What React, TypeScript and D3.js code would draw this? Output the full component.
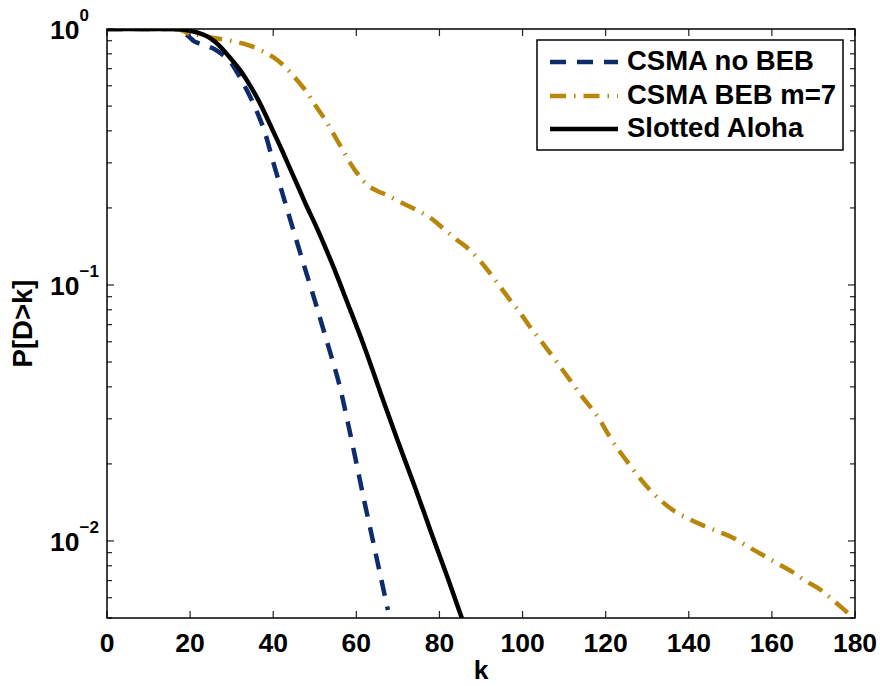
import React from "react";
import * as d3 from "d3";

// CSMA no BEB (blue dashed)
const blueK = [0, 16, 18, 19, 20, 21, 22, 24, 26, 28, 30, 32, 34, 36, 38, 40, 42, 44, 46, 48, 50, 52, 54, 56, 58, 60, 62, 64, 66, 67.6];
const blueP = [1, 1, 0.982, 0.955, 0.923, 0.895, 0.881, 0.859, 0.832, 0.789, 0.733, 0.646, 0.562, 0.479, 0.394, 0.302, 0.234, 0.182, 0.142, 0.111, 0.0871, 0.0676, 0.0525, 0.0403, 0.0288, 0.0202, 0.0141, 0.01, 0.00708, 0.00537];

// CSMA BEB m=7 (gold dash-dot)
const goldK = [0, 16, 18, 20, 22, 25, 28, 31, 34, 37, 40, 43, 46, 48, 50, 52.5, 54.5, 56.5, 58.5, 60.5, 62.5, 65, 67.3, 70, 74.6, 78, 80.8, 84, 87.3, 90, 92.2, 95, 97, 99.5, 101.8, 104, 106.1, 110, 114, 118.6, 121, 125.4, 130.7, 136.2, 140, 143.4, 147, 150.6, 154, 157.8, 161, 164.8, 168, 171.6, 175, 178, 180];
const goldP = [1, 1, 0.989, 0.955, 0.948, 0.927, 0.91, 0.891, 0.865, 0.826, 0.776, 0.708, 0.624, 0.569, 0.507, 0.442, 0.389, 0.342, 0.3, 0.269, 0.247, 0.233, 0.225, 0.213, 0.196, 0.182, 0.167, 0.151, 0.137, 0.123, 0.111, 0.0966, 0.0873, 0.0776, 0.0685, 0.0617, 0.0557, 0.0457, 0.0372, 0.0297, 0.0255, 0.0202, 0.0158, 0.0132, 0.0122, 0.0115, 0.0109, 0.0103, 0.00955, 0.00881, 0.00822, 0.00759, 0.007, 0.00646, 0.00582, 0.00528, 0.00495];

// Slotted Aloha (black solid)
const blackK = [0, 16, 18, 20, 22, 24, 26, 28, 30, 32, 34, 36, 38, 40, 42, 44, 46, 48, 50, 54, 58, 62, 66, 70, 74, 78, 82, 86];
const blackP = [1, 1, 0.995, 0.984, 0.966, 0.938, 0.891, 0.828, 0.759, 0.692, 0.617, 0.543, 0.468, 0.398, 0.339, 0.286, 0.242, 0.204, 0.174, 0.123, 0.0841, 0.0569, 0.0372, 0.0245, 0.0164, 0.0108, 0.00716, 0.00468];

const xTicks = [0, 20, 40, 60, 80, 100, 120, 140, 160, 180];
const yMajor = [1, 0.1, 0.01];
const yExp = ["0", "\u22121", "\u22122"];
const yMinor = [0.005, 0.006, 0.007, 0.008, 0.009, 0.02, 0.03, 0.04, 0.05, 0.06, 0.07, 0.08, 0.09, 0.2, 0.3, 0.4, 0.5, 0.6, 0.7, 0.8, 0.9];

const legendNames = ["CSMA no BEB", "CSMA BEB m=7", "Slotted Aloha"];

const font = "'Liberation Sans', Arial, Helvetica, sans-serif";

export default function App() {
  const width = 880;
  const height = 686;
  const left = 107;
  const right = 855;
  const top = 29;
  const bottom = 618;

  const x = d3.scaleLinear().domain([0, 180]).range([left, right]);
  const y = d3.scaleLog().domain([0.005, 1]).range([bottom, top]);

  const line = d3
    .line<[number, number]>()
    .x((d) => x(d[0]))
    .y((d) => y(d[1]))
    .curve(d3.curveMonotoneX);

  const series = [
    { k: blueK, p: blueP, color: "#0e2c6c", dash: "16,11", w: 4.5 },
    { k: goldK, p: goldP, color: "#b8860b", dash: "16,8,1.5,8", w: 4.5 },
    { k: blackK, p: blackP, color: "#000000", dash: "none", w: 4.5 },
  ];

  const tl = 7;
  const legX = 537;
  const legY = 40;
  const rowY = [62, 96, 129];

  return (
    <svg
      width={width}
      height={height}
      style={{ position: "absolute", left: 0, top: 0, background: "#fff" }}
      fontFamily={font}
      fontWeight="bold"
    >
      <defs>
        <clipPath id="plotClip">
          <rect x={left} y={top} width={right - left} height={bottom - top} />
        </clipPath>
      </defs>
      <rect x={0} y={0} width={width} height={height} fill="#fff" />

      {/* curves */}
      <g clipPath="url(#plotClip)">
        {series.map((s, i) => (
          <path
            key={i}
            d={line(s.k.map((k, j) => [k, s.p[j]] as [number, number])) || ""}
            fill="none"
            stroke={s.color}
            strokeWidth={s.w}
            strokeDasharray={s.dash}
            strokeLinejoin="round"
          />
        ))}
      </g>

      {/* ticks */}
      <g stroke="#222" strokeWidth={1.2}>
        {xTicks.map((t) => (
          <g key={"x" + t}>
            <line x1={x(t)} x2={x(t)} y1={bottom} y2={bottom - tl} />
            <line x1={x(t)} x2={x(t)} y1={top} y2={top + tl} />
          </g>
        ))}
        {yMajor.concat(yMinor).map((t) => (
          <g key={"y" + t}>
            <line x1={left} x2={left + (yMajor.includes(t) ? tl : 5)} y1={y(t)} y2={y(t)} />
            <line x1={right} x2={right - (yMajor.includes(t) ? tl : 5)} y1={y(t)} y2={y(t)} />
          </g>
        ))}
      </g>

      {/* frame */}
      <rect x={left} y={top} width={right - left} height={bottom - top} fill="none" stroke="#000" strokeWidth={1.5} />

      {/* x tick labels */}
      {xTicks.map((t) => (
        <text key={"xl" + t} x={x(t)} y={652} textAnchor="middle" fontSize={26.5}>
          {t}
        </text>
      ))}

      {/* y tick labels */}
      {yMajor.map((t, i) => (
        <text key={"yl" + t} x={50} y={y(t) + 10} fontSize={26.5}>
          10
          <tspan dy={-18} fontSize={17}>
            {yExp[i]}
          </tspan>
        </text>
      ))}

      {/* axis labels */}
      <text x={(left + right) / 2} y={679} textAnchor="middle" fontSize={26.5}>
        k
      </text>
      <text transform={`translate(32, ${(top + bottom) / 2}) rotate(-90)`} textAnchor="middle" fontSize={27.5}>
        P[D&gt;k]
      </text>

      {/* legend */}
      <rect x={legX} y={legY} width={306} height={110} fill="#fff" stroke="#000" strokeWidth={1.5} />
      {series.map((s, i) => (
        <g key={"lg" + i}>
          <line
            x1={550}
            x2={618}
            y1={rowY[i]}
            y2={rowY[i]}
            stroke={s.color}
            strokeWidth={s.w}
            strokeDasharray={s.dash}
          />
          <text x={627} y={rowY[i] + 8} fontSize={27.5}>
            {legendNames[i]}
          </text>
        </g>
      ))}
    </svg>
  );
}
